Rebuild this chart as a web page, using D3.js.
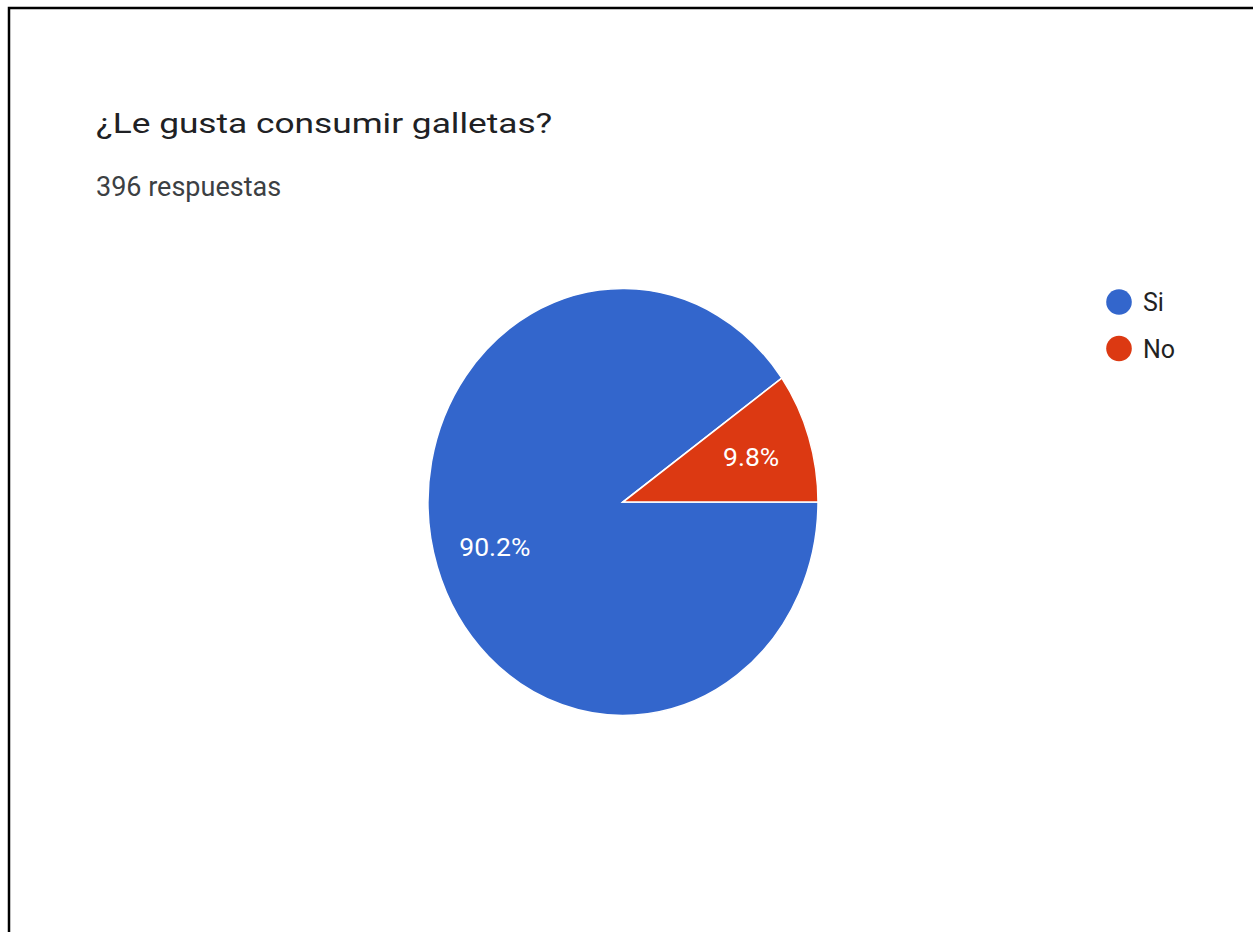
<!DOCTYPE html>
<html>
<head>
<meta charset="utf-8">
<script src="https://cdn.jsdelivr.net/npm/d3@7"></script>
<style>
  body { margin: 0; background: #fff; }
  text { font-family: Roboto, "Noto Sans", sans-serif; }
</style>
</head>
<body>
<div id="chart"></div>
<script>
// Data
const categories = ['Si', 'No'];
const counts = [357, 39];
const colors = ['#3366cc', '#dc3912'];
const title = '¿Le gusta consumir galletas?';
const subtitle = '396 respuestas';

const width = 1253;
const height = 932;
const stretchY = 1.095; // the pie in the screenshot is a bit taller than wide

const svg = d3.select('#chart')
  .append('svg')
  .attr('width', width)
  .attr('height', height);

// Frame (left + top edge of the captured card)
svg.append('path')
  .attr('d', `M9,${height} V8 H${width}`)
  .attr('fill', 'none')
  .attr('stroke', '#000')
  .attr('stroke-width', 2.5);

// Title (wide sans, so stretch Roboto horizontally)
svg.append('text')
  .attr('transform', 'translate(96,133) scale(1.26,1)')
  .attr('fill', '#202124')
  .attr('font-size', '28px')
  .text(title);

svg.append('text')
  .attr('x', 96)
  .attr('y', 196)
  .attr('fill', '#3c4043')
  .attr('font-size', '27px')
  .text(subtitle);

// Pie
const cx = 623;
const cy = 502;
const radius = 195;

const pie = d3.pie()
  .sort(null)
  .startAngle(Math.PI / 2)
  .endAngle(Math.PI / 2 + 2 * Math.PI);

const arcs = pie(counts);
const total = d3.sum(counts);

const arc = d3.arc().innerRadius(0).outerRadius(radius);
const labelArc = d3.arc().innerRadius(radius * 0.69).outerRadius(radius * 0.69);

const pieG = svg.append('g')
  .attr('transform', `translate(${cx},${cy}) scale(1, ${stretchY})`);

pieG.selectAll('.slice')
  .data(arcs)
  .enter()
  .append('path')
  .attr('class', 'slice')
  .attr('d', arc)
  .attr('fill', (d, i) => colors[i])
  .attr('stroke', '#fff')
  .attr('stroke-width', 1.5);

svg.selectAll('.label')
  .data(arcs)
  .enter()
  .append('text')
  .attr('class', 'label')
  .attr('transform', d => {
    const [x, y] = labelArc.centroid(d);
    return `translate(${cx + x},${cy + y * stretchY})`;
  })
  .attr('text-anchor', 'middle')
  .attr('dy', '0.35em')
  .attr('fill', '#fff')
  .attr('font-size', '26.5px')
  .text(d => (d.data / total * 100).toFixed(1) + '%');

// Legend
const legend = svg.append('g')
  .attr('transform', 'translate(1119, 302)');

const items = legend.selectAll('.item')
  .data(categories)
  .enter()
  .append('g')
  .attr('class', 'item')
  .attr('transform', (d, i) => `translate(0, ${i * 46.5})`);

items.append('circle')
  .attr('r', 12.8)
  .attr('fill', (d, i) => colors[i]);

items.append('text')
  .attr('x', 24)
  .attr('dy', '0.36em')
  .attr('fill', '#222')
  .attr('font-size', '25px')
  .text(d => d);
</script>
</body>
</html>
